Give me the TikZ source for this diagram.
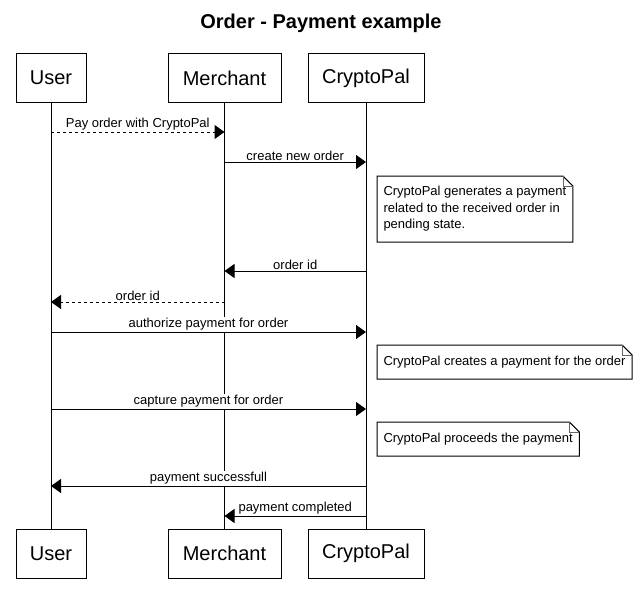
\documentclass[tikz,border=0pt]{standalone}
\usepackage{fontspec}
\setmainfont{Liberation Sans}
\usetikzlibrary{arrows.meta}
\begin{document}
\begin{tikzpicture}[x=1pt,y=-1pt, line width=1pt,
  actor/.style={draw, minimum height=49pt, inner sep=0pt, font=\fontsize{20}{24}\selectfont},
  msg/.style={-{Triangle[length=10pt,width=14pt]}},
  reply/.style={msg, dash pattern=on 3pt off 3pt},
  lbl/.style={above=0pt, fill=white, inner sep=1pt, font=\fontsize{13}{15}\selectfont},
  notebox/.style={anchor=north west, inner xsep=6pt, inner ysep=0pt, align=left, font=\fontsize{13}{16.5}\selectfont}]
\useasboundingbox (0,0) rectangle (643,613);
\node[font=\bfseries\fontsize{20}{24}\selectfont] (title) at (321,23.5) {Order - Payment example};
% actors
\node[actor, minimum width=70pt]  (u1) at (51,78) {User};
\node[actor, minimum width=113pt] (m1) at (224.5,78) {Merchant};
\node[actor, minimum width=116pt] (c1) at (366,78) {CryptoPal};
\node[actor, minimum width=70pt]  (u2) at (51,553.5) {User};
\node[actor, minimum width=113pt] (m2) at (224.5,553.5) {Merchant};
\node[actor, minimum width=116pt] (c2) at (366,553.5) {CryptoPal};
% lifelines
\draw (u1.south) -- (u2.north);
\draw (m1.south) -- (m2.north);
\draw (c1.south) -- (c2.north);
% messages
\draw[reply] (u1.south |- 0,132) -- (m1.south |- 0,132) node[midway, lbl] {Pay order with CryptoPal};
\draw[msg] (m1.south |- 0,162) -- (c1.south |- 0,162) node[midway, lbl] {create new order};
\draw[msg] (c1.south |- 0,271) -- (m1.south |- 0,271) node[midway, lbl] {order id};
\draw[reply] (m1.south |- 0,302) -- (u1.south |- 0,302) node[midway, lbl] {order id};
\draw[msg] (u1.south |- 0,332) -- (c1.south |- 0,332) node[midway, lbl] {authorize payment for order};
\draw[msg] (u1.south |- 0,409) -- (c1.south |- 0,409) node[midway, lbl] {capture payment for order};
\draw[msg] (c1.south |- 0,486) -- (u1.south |- 0,486) node[midway, lbl] {payment successfull};
\draw[msg] (c1.south |- 0,516) -- (m1.south |- 0,516) node[midway, lbl] {payment completed};
% notes
\node[notebox, minimum height=65pt] (n1) at (377,176) {CryptoPal generates a payment\\related to the received order in\\pending state.};
\node[notebox, minimum height=33pt] (n2) at (377,345) {CryptoPal creates a payment for the order};
\node[notebox, minimum height=33pt] (n3) at (377,422) {CryptoPal proceeds the payment};
\foreach \n in {n1,n2,n3}{
  \draw (\n.north west) -- ([xshift=-10pt]\n.north east) -- ([yshift=-10pt]\n.north east) -- (\n.south east) -- (\n.south west) -- cycle;
  \draw[line width=0.6pt, black!60] ([xshift=-10pt]\n.north east) -- ([xshift=-10pt,yshift=-10pt]\n.north east) -- ([yshift=-10pt]\n.north east);
}
\end{tikzpicture}
\end{document}
